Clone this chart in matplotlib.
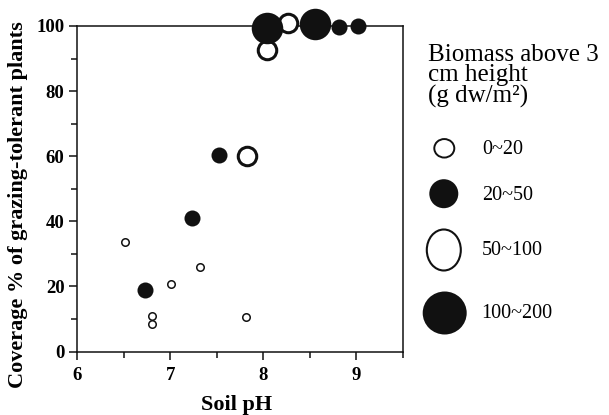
import matplotlib
matplotlib.use("Agg")
import matplotlib.pyplot as plt
from matplotlib.patches import Ellipse
from matplotlib.ticker import MultipleLocator

plt.rcParams['font.family'] = ['Liberation Serif', 'DejaVu Serif']
plt.rcParams['mathtext.fontset'] = 'custom'
plt.rcParams['mathtext.rm'] = 'Liberation Serif'

# ---- data ----
soil_ph = [6.51, 6.73, 6.80, 6.80, 7.01, 7.32, 7.23, 7.52, 7.82, 7.81,
           8.04, 8.04, 8.26, 8.55, 8.81, 9.02]
coverage = [33.7, 18.9, 10.9, 8.6, 20.7, 26.0, 40.9, 60.4, 60.2, 10.7,
            92.6, 99.5, 101.0, 100.6, 99.7, 99.9]
# biomass class index: 0 -> 0~20, 1 -> 20~50, 2 -> 50~100, 3 -> 100~200
biomass_class = [0, 1, 0, 0, 0, 0, 1, 1, 2, 0, 2, 3, 2, 3, 1, 1]
class_labels = ['0~20', '20~50', '50~100', '100~200']
x_ticks = [6, 7, 8, 9]
y_ticks = [0, 20, 40, 60, 80, 100]

# ---- styles per class ----
sizes = [29, 133, 177, 515]
faces = ['white', '#111111', 'white', '#111111']
edges = ['#111111', '#111111', '#111111', '#111111']
lws = [1.1, 0.0, 2.2, 0.0]
zorders = [3, 4, 3, 4]

W, H = 609, 415
fig = plt.figure(figsize=(W / 100, H / 100), dpi=100)
ax = fig.add_axes([77 / W, 1 - 351.5 / H, (403 - 77) / W, (351.5 - 26) / H])

for c in range(4):
    xs = [x for x, k in zip(soil_ph, biomass_class) if k == c]
    ys = [y for y, k in zip(coverage, biomass_class) if k == c]
    ax.scatter(xs, ys, s=sizes[c], facecolors=faces[c], edgecolors=edges[c],
               linewidths=lws[c], zorder=zorders[c], clip_on=False)

ax.set_xlim(6, 9.5)
ax.set_ylim(0, 100)
ax.set_xticks(x_ticks)
ax.set_yticks(y_ticks)
ax.xaxis.set_minor_locator(MultipleLocator(0.5))
ax.yaxis.set_minor_locator(MultipleLocator(10))
ax.tick_params(which='major', direction='out', length=5.5, width=1.1,
               labelsize=13.5, color='#111111')
ax.tick_params(axis='x', which='major', pad=6)
ax.tick_params(axis='y', which='major', pad=3.5)
ax.tick_params(which='minor', direction='out', length=4, width=1.1, color='#111111')
for lab in ax.get_xticklabels() + ax.get_yticklabels():
    lab.set_fontweight('bold')
for sp in ax.spines.values():
    sp.set_linewidth(1.1)
    sp.set_color('#111111')

# axis labels
fig.text(237 / W, 1 - 410 / H, 'Soil pH', fontsize=16, fontweight='bold',
         ha='center', va='baseline')
fig.text(18 / W, 1 - 205 / H, 'Coverage % of grazing-tolerant plants',
         fontsize=16, fontweight='bold', rotation=90, ha='center', va='center')

# legend title (one multi-line text)
fig.text(428 / W, 1 - 44 / H, 'Biomass above 3\ncm height\n(g dw/m\u00b2)',
         fontsize=18, va='top', ha='left', linespacing=0.9)

# legend symbols (sizes in px)
leg_centers = [(444.3, 148.3), (443.8, 193.7), (443.8, 250.0), (444.7, 313.0)]
leg_dims = [(20, 18.5), (29, 29), (34, 41), (44, 43)]
leg_face = ['white', '#111111', 'white', '#111111']
leg_lw = [1.4, 0, 1.5, 0]
for (cx, cy), (w, h), fc, lw in zip(leg_centers, leg_dims, leg_face, leg_lw):
    fig.add_artist(Ellipse((cx / W, 1 - cy / H), w / W, h / H,
                           transform=fig.transFigure, facecolor=fc,
                           edgecolor='#111111', linewidth=lw))
leg_text_pos = [(482, 149), (482, 195), (482, 250), (481, 313)]
for (tx, ty), lab in zip(leg_text_pos, class_labels):
    fig.text(tx / W, 1 - ty / H, lab, fontsize=14.5, ha='left', va='center')

fig.savefig('out.png', dpi=100)
